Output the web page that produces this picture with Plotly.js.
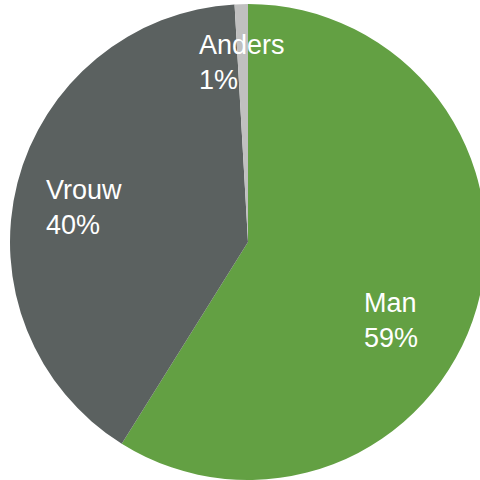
<!DOCTYPE html>
<html>
<head>
<meta charset="utf-8">
<script src="https://cdn.plot.ly/plotly-3.0.1.min.js"></script>
<style>
html,body{margin:0;padding:0;overflow:hidden;width:480px;height:480px;background:#fff;}
#chart{width:486px;height:480px;}
</style>
</head>
<body>
<div id="chart"></div>
<script>
const labels = ["Man", "Vrouw", "Anders"];
const values = [58.9, 40.2, 0.9];
const colors = ["#63a043", "#5b6160", "#c0c0c0"];

const W = 486, H = 480, ML = 10, MR = 0, MT = 4, MB = 0;
const pw = W - ML - MR, ph = H - MT - MB;
function px2x(px){ return (px - ML) / pw; }
function py2y(py){ return 1 - (py - MT) / ph; }

const total = values.reduce((a, b) => a + b, 0);
const labelPos = [[362, 320], [44, 207], [197, 62]];

const annotations = labels.map((lab, i) => ({
  text: lab + "<br>" + Math.round(values[i] / total * 100) + "%",
  xref: "paper", yref: "paper",
  x: px2x(labelPos[i][0]), y: py2y(labelPos[i][1]),
  xanchor: "left", yanchor: "middle", align: "left",
  showarrow: false,
  font: {family: "Liberation Sans, Arial, sans-serif", size: 27, color: "#ffffff"}
}));

const data = [{
  type: "pie",
  labels: labels,
  values: values,
  sort: false,
  direction: "clockwise",
  rotation: 0,
  marker: {colors: colors, line: {width: 0}},
  textinfo: "none",
  hoverinfo: "none",
  showlegend: false
}];

const layout = {
  width: W, height: H,
  margin: {l: ML, r: MR, t: MT, b: MB, pad: 0},
  paper_bgcolor: "#ffffff",
  showlegend: false,
  annotations: annotations
};

Plotly.newPlot("chart", data, layout, {displayModeBar: false, staticPlot: true});
</script>
</body>
</html>
